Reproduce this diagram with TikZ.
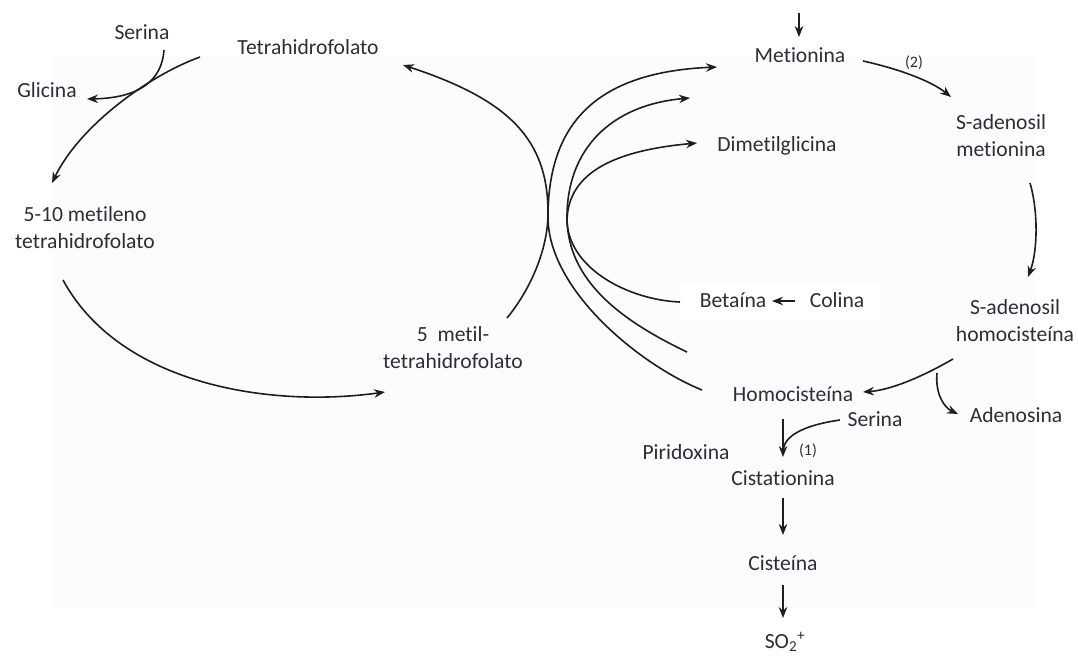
\documentclass[tikz,border=0pt]{standalone}
\usepackage{fontspec}
\setmainfont{Carlito}[Ligatures=NoCommon]
\usetikzlibrary{arrows.meta}
\definecolor{txt}{HTML}{2E2E36}
\definecolor{ln}{HTML}{1E1E1E}
\definecolor{bgc}{HTML}{FCFCFC}
\begin{document}
\begin{tikzpicture}[x=1pt,y=-1pt,
  lbl/.style={font=\fontsize{21.6}{27}\selectfont, text=txt, align=center, inner sep=0pt, anchor=center},
  small/.style={font=\fontsize{16}{19}\selectfont, text=txt, inner sep=0pt},
  conn/.style={draw=ln, line width=1.6pt, -{Stealth[length=11pt,width=8.5pt]}},
  plain/.style={draw=ln, line width=1.6pt}]
\useasboundingbox (0,0) rectangle (1078,657);
\fill[white] (0,0) rectangle (1078,657);
\fill[bgc] (53,57) rectangle (1035,608);
\fill[white] (680,283) rectangle (880,320);

% nodes
\node[lbl] (ser1) at (142,32) {Serina};
\node[lbl] (thf) at (308,47) {Tetrahidrofolato};
\node[lbl] (gli) at (47,90) {Glicina};
\node[lbl] (mthf) at (85,228) {5-10 metileno\\tetrahidrofolato};
\node[lbl] (metil) at (453,348) {5\ \ metil-\\tetrahidrofolato};
\node[lbl] (met) at (800,55) {Metionina};
\node[small] (n2) at (914,63) {(2)};
\node[lbl] (sam) at (1001,136) {S-adenosil\\metionina};
\node[lbl] (dmg) at (777,146) {Dimetilglicina};
\node[lbl] (bet) at (733,300) {Betaína};
\node[lbl] (col) at (837,300) {Colina};
\node[lbl] (sah) at (1015,321) {S-adenosil\\homocisteína};
\node[lbl] (hcy) at (793,394) {Homocisteína};
\node[lbl] (ade) at (1016,415) {Adenosina};
\node[lbl] (ser2) at (875,419) {Serina};
\node[lbl] (pir) at (686,452) {Piridoxina};
\node[small] (n1) at (808,451) {(1)};
\node[lbl] (cis) at (783,478) {Cistationina};
\node[lbl] (cys) at (783,563) {Cisteína};
\node[lbl] (so2) at (785,642) {SO\textsubscript{2}\textsuperscript{+}};

% endpoint coordinates
\coordinate (thf-o) at (200,57);
\coordinate (mthf-i) at (52,183);
\coordinate (ser1-o) at (164,50);
\coordinate (gli-i) at (87,99);
\coordinate (mthf-o) at (63,280);
\coordinate (metil-i) at (385,392);
\coordinate (metil-o) at (507,318);
\coordinate (vL) at (548,213);
\coordinate (thf-i) at (403,65);
\coordinate (hcy-o) at (702,390);
\coordinate (v1) at (548,217);
\coordinate (met-i1) at (717,67);
\coordinate (free2) at (687,352);
\coordinate (v2) at (567,217);
\coordinate (met-i2) at (690,98);
\coordinate (bet-o) at (680,302);
\coordinate (v3) at (567,222);
\coordinate (dmg-i) at (697,143);
\coordinate (topin) at (799,13);
\coordinate (met-i) at (799,37);
\coordinate (met-o) at (863,61);
\coordinate (sam-i) at (951,97);
\coordinate (sam-o) at (1030,183);
\coordinate (sah-i) at (1028,277);
\coordinate (sah-o) at (953,359);
\coordinate (hcy-i) at (863,392);
\coordinate (br) at (937,373);
\coordinate (ade-i) at (958,414);
\coordinate (col-o) at (795,301);
\coordinate (bet-i) at (772,301);
\coordinate (hcy-d) at (783,419);
\coordinate (cis-i) at (783,457);
\coordinate (ser2-o) at (840,420);
\coordinate (mrg) at (783,450);
\coordinate (cis-o) at (783,498);
\coordinate (cys-i) at (783,535);
\coordinate (cys-o) at (783,585);
\coordinate (so2-i) at (783,618);

% left cycle
\draw[conn] (thf-o) .. controls (150,75) and (80,125) .. (mthf-i);
\draw[conn] (ser1-o) .. controls (162,80) and (140,98) .. (gli-i);
\draw[conn] (mthf-o) .. controls (120,385) and (270,408) .. (metil-i);
\draw[conn] (metil-o) .. controls (530,290) and (548,250) .. (vL)
                      .. controls (548,140) and (510,100) .. (thf-i);

% right family
\draw[conn] (hcy-o) .. controls (640,365) and (548,290) .. (v1)
                    .. controls (548,120) and (600,72) .. (met-i1);
\draw[conn] (free2) .. controls (620,320) and (567,280) .. (v2)
                    .. controls (567,150) and (610,105) .. (met-i2);
\draw[conn] (bet-o) .. controls (630,300) and (570,270) .. (v3)
                    .. controls (567,170) and (620,150) .. (dmg-i);

% methionine cycle
\draw[conn] (topin) -- (met-i);
\draw[conn] (met-o) .. controls (895,68) and (930,80) .. (sam-i);
\draw[conn] (sam-o) .. controls (1038,210) and (1038,250) .. (sah-i);
\draw[conn] (sah-o) .. controls (920,378) and (890,390) .. (hcy-i);
\draw[conn] (br) .. controls (935,395) and (945,408) .. (ade-i);
\draw[conn] (col-o) -- (bet-i);

% transsulfuration
\draw[conn] (hcy-d) -- (cis-i);
\draw[plain] (ser2-o) .. controls (805,425) and (785,435) .. (mrg);
\draw[conn] (cis-o) -- (cys-i);
\draw[conn] (cys-o) -- (so2-i);
\end{tikzpicture}
\end{document}
